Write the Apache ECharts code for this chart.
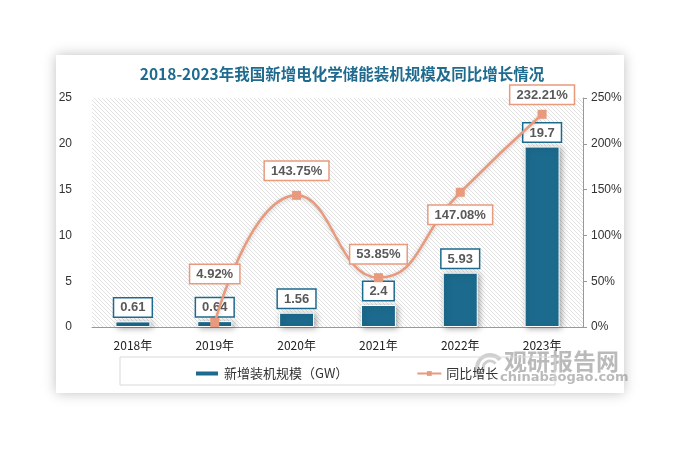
<!DOCTYPE html>
<html><head><meta charset="utf-8">
<script src="https://cdn.jsdelivr.net/npm/echarts@6/dist/echarts.min.js"></script>
<style>html,body{margin:0;padding:0;background:#fff}#c{width:684px;height:451px}</style>
</head><body><div id="c"></div>
<script>
const categories = ['2018年','2019年','2020年','2021年','2022年','2023年'];
const capacity = [0.61, 0.64, 1.56, 2.4, 5.93, 19.7];
const growth = [null, 4.92, 143.75, 53.85, 147.08, 232.21];
const leftTicks = [0, 5, 10, 15, 20, 25];
const rightTicks = [0, 50, 100, 150, 200, 250];
const growthLabelPos = [null, ['top',35], ['top',11], ['top',10], ['bottom',9], ['top',6]];

const pc = document.createElement('canvas');
pc.width = 4; pc.height = 4;
const g = pc.getContext('2d');
g.fillStyle = '#ffffff'; g.fillRect(0,0,4,4);
g.strokeStyle = '#dedede'; g.lineWidth = 0.9;
g.beginPath(); g.moveTo(-1,-1); g.lineTo(5,5); g.moveTo(-1,3); g.lineTo(1,5); g.moveTo(3,-1); g.lineTo(5,1); g.stroke();

const chart = echarts.init(document.getElementById('c'), null, {renderer:'canvas'});
const BLUE = '#1c6b8e', ORANGE = '#e99a7c';
chart.setOption({
  backgroundColor: '#fff',
  animation: false,
  title: {
    text: '2018-2023年我国新增电化学储能装机规模及同比增长情况',
    left: 'center', top: 61,
    textStyle: {fontFamily: 'Noto Sans CJK SC', fontWeight: 'bold', fontSize: 15.5, color: '#1f6b8f'}
  },
  graphic: [
    {type:'rect', z:-10, shape:{x:56,y:55,width:568,height:338}, style:{fill:'#fff', shadowBlur:12, shadowColor:'rgba(0,0,0,0.25)', shadowOffsetX:0, shadowOffsetY:0}},
    {type:'rect', z:1, shape:{x:120,y:357,width:435,height:28}, style:{fill:'none', stroke:'#d9d9d9', lineWidth:1}},
    {type:'text', z:0, left:504, top:350, style:{text:'观研报告网', fill:'rgba(140,140,140,0.6)', font:'bold 23px "Noto Sans CJK SC"'}},
    {type:'text', z:0, left:500, top:371, style:{text:'chinabaogao.com', fill:'rgba(140,140,140,0.6)', font:'bold 13px "DejaVu Sans"'}},
    {type:'arc', z:0, shape:{cx:490,cy:368,r:13,startAngle:2.6,endAngle:5.6}, style:{stroke:'rgba(160,160,160,0.5)', lineWidth:4, fill:'none'}},
    {type:'arc', z:0, shape:{cx:490,cy:368,r:7,startAngle:2.6,endAngle:5.6}, style:{stroke:'rgba(160,160,160,0.5)', lineWidth:3, fill:'none'}}
  ],
  legend: {
    left: 189, top: 362, itemGap: 68, itemWidth: 24, itemHeight: 6,
    textStyle: {fontFamily: 'Noto Sans CJK SC', fontSize: 13, color: '#333'},
    data: [
      {name:'新增装机规模（GW）', icon:'rect'},
      {name:'同比增长'}
    ]
  },
  grid: {left: 92, right: 101, top: 98, bottom: 124, show: true, borderWidth: 0,
         backgroundColor: {image: pc, repeat: 'repeat'}},
  xAxis: {
    type: 'category', data: categories,
    axisLine: {lineStyle: {color: '#999'}},
    axisTick: {show: false},
    axisLabel: {color: '#222', fontSize: 12, fontFamily: 'Noto Sans CJK SC', margin: 12}
  },
  yAxis: [
    {type:'value', min:0, max:25, interval:5,
     axisLine:{show:false}, axisTick:{show:false}, splitLine:{show:false},
     axisLabel:{color:'#333', fontSize:12, fontFamily:'Liberation Sans', margin:20}},
    {type:'value', min:0, max:250, interval:50, position:'right',
     axisLine:{show:true, lineStyle:{color:'#999'}}, axisTick:{show:true, length:4, lineStyle:{color:'#999'}}, splitLine:{show:false},
     axisLabel:{color:'#333', fontSize:12, fontFamily:'Liberation Sans', margin:8, formatter:'{value}%'}}
  ],
  series: [
    {
      name:'新增装机规模（GW）', type:'bar', data: capacity, barWidth: 35,
      itemStyle:{color:BLUE, borderColor:'#fff', borderWidth:1, shadowBlur:6, shadowColor:'rgba(0,0,0,0.35)', shadowOffsetX:2, shadowOffsetY:1},
      label:{show:true, position:'top', distance:5, color:'#595959', fontWeight:'bold', fontSize:13, fontFamily:'Liberation Sans',
             backgroundColor:'#fff', borderColor:BLUE, borderWidth:1.5, padding:[3,6,2,6]}
    },
    {
      name:'同比增长', type:'line', yAxisIndex:1, smooth:0.5, connectNulls:false,
      data: growth.map((v,i)=> v===null ? null : {value:v, label:{position:growthLabelPos[i][0], distance:growthLabelPos[i][1]}}),
      symbol:'rect', symbolSize:9,
      lineStyle:{color:ORANGE, width:2.5, shadowBlur:4, shadowColor:'rgba(0,0,0,0.2)', shadowOffsetY:1},
      itemStyle:{color:ORANGE},
      label:{show:true, color:'#595959', fontWeight:'bold', fontSize:13, fontFamily:'Liberation Sans',
             backgroundColor:'#fff', borderColor:ORANGE, borderWidth:1.5, padding:[3,6,2,6],
             formatter: p => p.value + '%'}
    }
  ]
});
</script></body></html>
